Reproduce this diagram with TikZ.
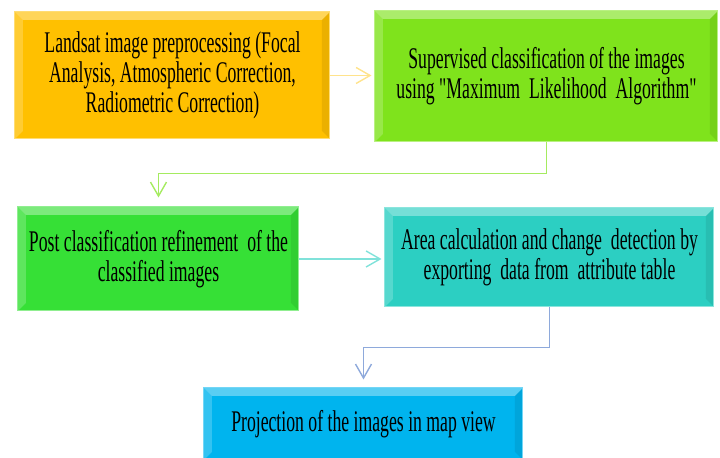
\documentclass[tikz,border=0pt]{standalone}
\usepackage{fontspec}
\setmainfont{Liberation Serif}[FakeStretch=0.59, Ligatures=TeXOff]
\usetikzlibrary{positioning}
\usetikzlibrary{arrows.meta}

\definecolor{boxorange}{HTML}{FFC000}
\definecolor{boxlime}{HTML}{7FE31C}
\definecolor{boxgreen}{HTML}{36E036}
\definecolor{boxteal}{HTML}{2CCFC2}
\definecolor{boxblue}{HTML}{00B4EE}
\definecolor{flowblue}{HTML}{8EA9DB}

\tikzset{
  procbox/.style={rectangle, fill=#1, draw=#1!55!white, line width=0.5pt,
    inner sep=0pt, align=center, font=\fontsize{15}{15}\selectfont,
    path picture={
      \fill[white, opacity=0.35] (path picture bounding box.north west) -- (path picture bounding box.north east)
        -- ([xshift=-4pt,yshift=-4pt]path picture bounding box.north east) -- ([xshift=4pt,yshift=-4pt]path picture bounding box.north west) -- cycle;
      \fill[white, opacity=0.2] (path picture bounding box.north west) -- (path picture bounding box.south west)
        -- ([xshift=4pt,yshift=4pt]path picture bounding box.south west) -- ([xshift=4pt,yshift=-4pt]path picture bounding box.north west) -- cycle;
      \fill[black, opacity=0.08] (path picture bounding box.north east) -- (path picture bounding box.south east)
        -- ([xshift=-4pt,yshift=4pt]path picture bounding box.south east) -- ([xshift=-4pt,yshift=-4pt]path picture bounding box.north east) -- cycle;
    }},
  flow/.style={draw=#1, line width=0.7pt, -{Straight Barb[length=7pt,width=8pt]}}
}

\begin{document}
\begin{tikzpicture}[x=0.5pt, y=-0.5pt]

    \useasboundingbox (0,0) rectangle (720,458);

    \node(P1)[procbox=boxorange, minimum width=157.5pt, minimum height=63.5pt] at (172.5,75.5)
        {Landsat image preprocessing (Focal\\Analysis, Atmospheric Correction,\\Radiometric Correction)};
    \node(P2)[procbox=boxlime, minimum width=171.5pt, minimum height=65.5pt] at (546.5,76.5)
        {Supervised classification of the images\\using "Maximum\ \ Likelihood\ \ Algorithm"};
    \node(P3)[procbox=boxgreen, minimum width=140.5pt, minimum height=52pt] at (158.5,259)
        {Post classification refinement\ \ of the\\classified images};
    \node(P4)[procbox=boxteal, minimum width=164.5pt, minimum height=49.5pt] at (549.5,257.5)
        {Area calculation and change\ \ detection by\\exporting\ \ data from\ \ attribute table};
    \node(P5)[procbox=boxblue, minimum width=159.5pt, minimum height=36pt] at (363.5,424)
        {Projection of the images in map view};

    \draw[flow=boxorange!45!white, shorten >=1.5pt] (P1.east) -- (P1.east -| P2.west);
    \draw[flow=boxlime!70!white, shorten >=4.5pt] (P2.south) -- ++(0,31) -| (P3.north);
    \draw[flow=boxteal!60!white, shorten >=1.5pt] (P3.east) -- (P3.east -| P4.west);
    \draw[flow=flowblue, shorten >=4pt] (P4.south) -- ++(0,40) -| (P5.north);

\end{tikzpicture}
\end{document}
